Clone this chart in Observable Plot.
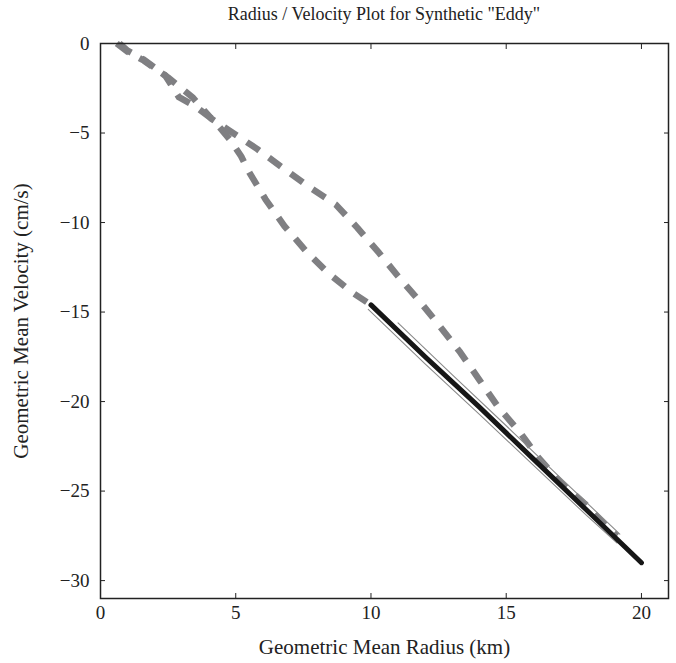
<!DOCTYPE html>
<html>
<head>
<meta charset="utf-8">
<script src="https://cdn.jsdelivr.net/npm/d3@7"></script>
<script src="https://cdn.jsdelivr.net/npm/@observablehq/plot@0.6"></script>
<style>
  html, body { margin: 0; padding: 0; background: #fff; }
  #chart { width: 676px; font-family: "Liberation Serif", "Times New Roman", serif; }
  #title {
    box-sizing: border-box;
    width: 676px; height: 28px; line-height: 28px;
    padding-left: 100px; padding-right: 8px;
    text-align: center; font-size: 18px; color: #222;
  }
</style>
</head>
<body>
<div id="chart">
  <div id="title">Radius / Velocity Plot for Synthetic "Eddy"</div>
</div>
<script>
// Axis ticks
const xTicks = [0, 5, 10, 15, 20];
const yTicks = [0, -5, -10, -15, -20, -25, -30];

// Inner (steeper) dashed branch: radius (km) and velocity (cm/s)
const innerRadius   = [0.6, 1.0, 1.6, 2.4, 2.9, 3.5, 4.2, 4.8, 5.2, 5.5, 6.1, 6.8, 7.6, 8.4, 9.3, 10.0];
const innerVelocity = [0.0, -0.45, -0.95, -1.8, -3.0, -3.5, -4.3, -5.4, -6.3, -7.2, -8.7, -10.2, -11.6, -12.8, -13.9, -14.6];

// Outer dashed branch
const outerRadius   = [0.7, 1.0, 1.6, 2.5, 3.4, 4.1, 4.8, 5.8, 6.7, 7.7, 8.7, 9.5, 10.3, 11.0, 11.8, 12.55, 13.3, 14.0, 14.7, 15.5, 16.2, 17.0, 17.9, 18.7, 19.1];
const outerVelocity = [0.0, -0.4, -0.9, -1.9, -3.0, -4.2, -4.9, -5.9, -6.9, -8.0, -9.0, -10.3, -11.7, -13.0, -14.4, -15.8, -17.25, -18.77, -20.3, -21.7, -23.15, -24.5, -25.7, -26.95, -27.5];

// Fitted relation (heavy solid line)
const fitRadius   = [10.0, 12.0, 14.0, 16.0, 18.0, 20.0];
const fitVelocity = [-14.6, -17.5, -20.3, -23.2, -26.1, -29.0];

// Bounds of the fit (thin lines)
const upperRadius   = [11.0, 13.0, 15.0, 17.0, 19.2];
const upperVelocity = [-15.6, -18.5, -21.35, -24.25, -27.4];
const lowerRadius   = [9.9, 12.0, 14.0, 16.0, 18.0, 19.1];
const lowerVelocity = [-14.85, -17.9, -20.7, -23.55, -26.4, -27.9];

const toPoints = (rs, vs) => rs.map((r, i) => ({r, v: vs[i]}));
const inner = toPoints(innerRadius, innerVelocity);
const outer = toPoints(outerRadius, outerVelocity);
const fit = toPoints(fitRadius, fitVelocity);
const upper = toPoints(upperRadius, upperVelocity);
const lower = toPoints(lowerRadius, lowerVelocity);

const dashed = {x: "r", y: "v", stroke: "#7f7f82", strokeWidth: 6.5, strokeDasharray: "15,12", strokeLinecap: "butt"};
const thin = {x: "r", y: "v", stroke: "#8a8a8a", strokeWidth: 1.1};
const blank = () => "";

const chart = Plot.plot({
  width: 676,
  height: 635,
  marginTop: 15,
  marginBottom: 65,
  marginLeft: 100,
  marginRight: 8,
  style: {fontFamily: "Liberation Serif, Times New Roman, serif", fontSize: "19px", color: "#222", background: "#fff"},
  x: {domain: [0, 21]},
  y: {domain: [-31, 0]},
  marks: [
    Plot.line(inner, dashed),
    Plot.line(outer, dashed),
    Plot.line(lower, thin),
    Plot.line(upper, thin),
    Plot.line(fit, {x: "r", y: "v", stroke: "#161616", strokeWidth: 5, strokeLinecap: "round"}),
    // inward tick marks on all four sides
    Plot.axisX(xTicks, {anchor: "bottom", tickSize: -5, fill: "none", label: null, stroke: "#222"}),
    Plot.axisX(xTicks, {anchor: "top", tickSize: -5, fill: "none", label: null, stroke: "#222"}),
    Plot.axisY(yTicks, {anchor: "left", tickSize: -5, fill: "none", label: null, stroke: "#222"}),
    Plot.axisY(yTicks, {anchor: "right", tickSize: -5, fill: "none", label: null, stroke: "#222"}),
    // tick labels
    Plot.axisX(xTicks, {anchor: "bottom", tickSize: 0, tickPadding: 7, fontSize: 19, label: null}),
    Plot.axisY(yTicks, {anchor: "left", tickSize: 0, tickPadding: 11, fontSize: 19, label: null}),
    // axis titles
    Plot.axisX(xTicks, {anchor: "bottom", tickSize: 0, tickFormat: blank, fontSize: 21,
      label: "Geometric Mean Radius (km)", labelAnchor: "center", labelArrow: "none", labelOffset: 55}),
    Plot.axisY(yTicks, {anchor: "left", tickSize: 0, tickFormat: blank, fontSize: 21,
      label: "Geometric Mean Velocity (cm/s)", labelAnchor: "center", labelArrow: "none", labelOffset: 87}),
    Plot.frame({stroke: "#222", strokeWidth: 1.5})
  ]
});
document.getElementById("chart").append(chart);
</script>
</body>
</html>
